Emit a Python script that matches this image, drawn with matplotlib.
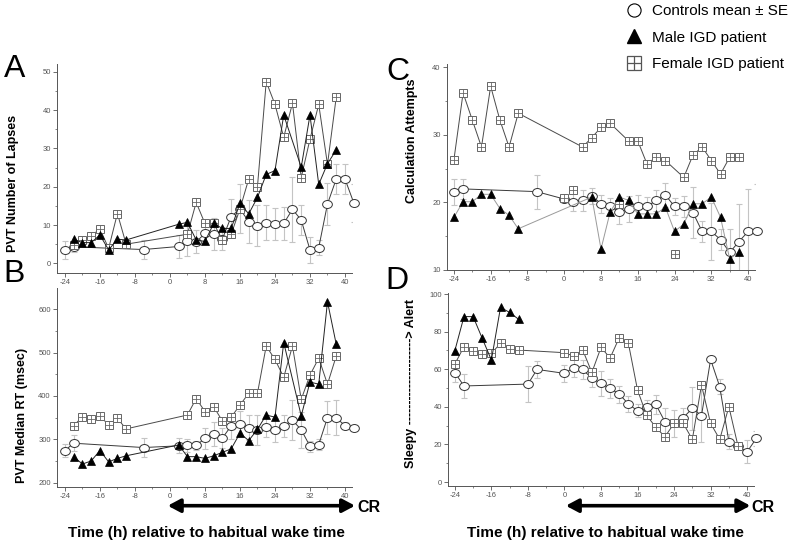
import matplotlib
matplotlib.use("Agg")
import matplotlib.pyplot as plt
import matplotlib.transforms as mtransforms
from matplotlib.lines import Line2D
from matplotlib.path import Path
from matplotlib.ticker import MultipleLocator

plt.rcParams["font.family"] = ["Liberation Sans", "DejaVu Sans"]
plt.rcParams["axes.unicode_minus"] = False

W, H = 797, 542

# ── Panel A: PVT number of lapses ─────────────────────────────────────────────
a_ctrl_h  = [-24, -22, -6, 2, 4, 6, 8, 10, 12, 14, 16, 18, 20, 22, 24, 26, 28, 30, 32, 34, 36, 38, 40, 42]
a_ctrl_y  = [3.5, 4.3, 3.6, 4.4, 5.8, 5.6, 7.8, 7.6, 6.4, 12.2, 14.2, 10.9, 9.8, 10.6, 10.2, 10.4, 14.1, 11.3, 3.5, 4.1, 15.5, 22.0, 22.0, 15.8]
a_ctrl_se = [2.3, 1.3, 2.5, 3.0, 4.0, 3.0, 2.5, 4.1, 3.0, 4.5, 6.4, 5.7, 5.4, 4.5, 4.2, 4.3, 8.5, 3.9, 3.5, 2.0, 5.4, 3.8, 3.8, 5.0]
a_male_h  = [-22, -20, -18, -16, -14, -12, -10, 2, 4, 6, 8, 10, 12, 14, 16, 18, 20, 22, 24, 26, 30, 32, 34, 36, 38]
a_male_y  = [6.3, 5.4, 5.4, 7.4, 3.5, 6.3, 6.1, 10.2, 10.7, 6.1, 5.7, 10.4, 9.1, 9.1, 15.7, 12.9, 17.2, 23.2, 24.2, 38.7, 25.1, 38.7, 20.6, 26.0, 29.6]
a_fem_h   = [-22, -20, -18, -16, -14, -12, -10, 4, 6, 8, 10, 12, 14, 16, 18, 20, 22, 24, 26, 28, 30, 32, 34, 36, 38]
a_fem_y   = [4.8, 6.1, 7.1, 9.0, 3.9, 13.0, 5.0, 7.6, 15.9, 10.4, 10.4, 6.1, 7.6, 14.2, 22.0, 20.0, 47.4, 41.5, 32.9, 41.8, 22.4, 32.4, 41.5, 25.8, 43.4]

# ── Panel B: PVT median RT (msec) ─────────────────────────────────────────────
b_ctrl_h  = [-24, -22, -6, 2, 4, 6, 8, 10, 12, 14, 16, 18, 20, 22, 24, 26, 28, 30, 32, 34, 36, 38, 40, 42]
b_ctrl_y  = [274, 291, 281, 285, 286, 286, 302, 312, 303, 331, 336, 327, 321, 328, 321, 331, 344, 322, 284, 288, 350, 350, 331, 325]
b_ctrl_se = [15, 18, 22, 17, 15, 10, 25, 27, 23, 30, 30, 29, 35, 23, 27, 26, 46, 42, 13, 13, 38, 40, 8, 3]
b_male_h  = [-22, -20, -18, -16, -14, -12, -10, 2, 4, 6, 8, 10, 12, 14, 16, 18, 20, 22, 24, 26, 30, 32, 34, 36, 38]
b_male_y  = [260, 243, 250, 274, 248, 256, 262, 287, 260, 260, 256, 262, 270, 278, 314, 297, 323, 356, 351, 523, 354, 432, 427, 617, 519]
b_fem_h   = [-22, -20, -18, -16, -14, -12, -10, 4, 6, 8, 10, 12, 14, 16, 18, 20, 22, 24, 26, 28, 30, 32, 34, 36, 38]
b_fem_y   = [331, 352, 346, 354, 333, 348, 324, 356, 394, 364, 375, 342, 351, 379, 406, 406, 515, 484, 443, 515, 392, 448, 487, 427, 492]

# ── Panel C: calculation attempts ─────────────────────────────────────────────
c_ctrl_h  = [-24, -22, -6, 0, 2, 4, 6, 8, 10, 12, 14, 16, 18, 20, 22, 24, 26, 28, 30, 32, 34, 36, 38, 40, 42]
c_ctrl_y  = [21.5, 22.0, 21.6, 20.5, 20.1, 20.3, 21.0, 19.8, 19.4, 18.6, 19.0, 19.4, 19.4, 20.3, 21.1, 19.4, 19.4, 18.5, 15.7, 15.7, 14.5, 12.6, 14.2, 15.7, 15.7]
c_ctrl_se = [1.9, 1.5, 2.5, 0.4, 1.3, 1.6, 1.2, 1.3, 1.2, 1.8, 1.9, 1.7, 1.4, 1.6, 1.8, 1.2, 1.6, 3.8, 1.5, 4.2, 1.5, 3.5, 5.5, 6.3, 7.0]
c_male_h  = [-24, -22, -20, -18, -16, -14, -12, -10, 6, 8, 10, 12, 14, 16, 18, 20, 22, 24, 26, 28, 30, 32, 34, 36, 38]
c_male_y  = [17.8, 20.1, 20.1, 21.2, 21.2, 19.1, 18.1, 16.1, 20.8, 13.1, 18.6, 20.8, 20.3, 18.3, 18.3, 18.3, 19.3, 15.7, 16.8, 19.8, 19.8, 20.8, 17.8, 11.6, 12.7]
c_fem_h   = [-24, -22, -20, -18, -16, -14, -12, -10, 4, 6, 8, 10, 14, 16, 18, 20, 22, 26, 28, 30, 32, 34, 36, 38]
c_fem_y   = [26.3, 36.2, 32.2, 28.2, 37.2, 32.2, 28.2, 33.2, 28.2, 29.6, 31.1, 31.7, 29.1, 29.1, 25.7, 26.7, 26.2, 23.7, 27.0, 28.2, 26.2, 24.2, 26.7, 26.7]
c_fem_extra_h = [0, 2, 12, 24]          # stray female points, not joined by the line
c_fem_extra_y = [20.6, 21.8, 19.8, 12.3]

# ── Panel D: sleepy -> alert ──────────────────────────────────────────────────
d_ctrl_h  = [-24, -22, -8, -6, 0, 2, 4, 6, 8, 10, 12, 14, 16, 18, 20, 22, 24, 26, 28, 30, 32, 34, 36, 38, 40, 42]
d_ctrl_y  = [58.2, 51.1, 52.1, 59.9, 57.8, 60.8, 59.9, 55.1, 52.5, 49.8, 46.8, 41.5, 37.9, 40.1, 41.3, 32.1, 31.2, 34.2, 39.2, 35.3, 65.2, 50.7, 21.5, 19.1, 16.1, 23.2]
d_ctrl_se = [4.8, 6.2, 9.7, 4.5, 4.5, 5.0, 5.0, 4.5, 6.5, 5.0, 4.5, 4.5, 3.5, 3.5, 5.0, 7.5, 7.0, 5.0, 11.5, 14.0, 1.0, 4.0, 4.0, 1.5, 6.0, 4.0]
d_male_h  = [-24, -22, -20, -18, -16, -14, -12, -10]
d_male_y  = [69.9, 88.0, 88.0, 76.4, 64.9, 92.9, 90.2, 86.5]
d_fem_h   = [-24, -22, -20, -18, -16, -14, -12, -10, 0, 2, 4, 6, 8, 10, 12, 14, 16, 18, 20, 22, 24, 26, 28, 30, 32, 34, 36, 38]
d_fem_y   = [62.8, 72.0, 69.9, 68.1, 68.4, 73.8, 70.6, 70.2, 68.8, 67.0, 70.2, 58.3, 71.6, 66.0, 76.8, 73.8, 48.9, 35.5, 29.1, 24.1, 31.2, 31.2, 22.7, 51.6, 31.2, 22.7, 40.1, 19.1]

# slightly flattened circle, like the original markers
_uc = Path.unit_circle()
ELLIPSE = Path(_uc.vertices * [1.0, 0.82], _uc.codes)


def px_rect(left, top, right, bottom):
    """Pixel box -> figure fraction [l, b, w, h]."""
    return [left / W, 1 - bottom / H, (right - left) / W, (bottom - top) / H]


def style_axes(ax, xlim, ylim, ymaj, ymin):
    ax.set_xlim(*xlim)
    ax.set_ylim(*ylim)
    for side in ("top", "right"):
        ax.spines[side].set_visible(False)
    for side in ("left", "bottom"):
        ax.spines[side].set_color("#555555")
        ax.spines[side].set_linewidth(0.7)
    ax.xaxis.set_major_locator(MultipleLocator(8))
    ax.xaxis.set_minor_locator(MultipleLocator(4))
    ax.yaxis.set_major_locator(MultipleLocator(ymaj))
    ax.yaxis.set_minor_locator(MultipleLocator(ymin))
    ax.set_xticks([-24, -16, -8, 0, 8, 16, 24, 32, 40])
    ax.tick_params(which="major", direction="out", length=3, width=0.6,
                   colors="#555555", labelsize=5.5, pad=1.5)
    ax.tick_params(which="minor", direction="out", length=1.6, width=0.5,
                   colors="#555555")


def draw_series(ax, ctrl, male, fem, male_line="#222222"):
    ch, cy, cse = ctrl
    ax.errorbar(ch, cy, yerr=cse, fmt="none", ecolor="#c4c4c4",
                elinewidth=0.8, capsize=2.0, capthick=0.8, zorder=1)
    ax.plot(ch, cy, "-", color="#3a3a3a", lw=0.7, marker=ELLIPSE, ms=7,
            mfc="white", mec="#333333", mew=0.7, zorder=3, clip_on=False)
    fh, fy = fem
    ax.plot(fh, fy, "-", color="#4a4a4a", lw=0.7, marker="s", ms=5.3,
            mfc="white", mec="#666666", mew=0.7, zorder=4, clip_on=False)
    ax.plot(fh, fy, ls="none", marker="+", ms=5.3, mec="#666666",
            mew=0.6, zorder=4, clip_on=False)
    mh, my = male
    ax.plot(mh, my, "-", color=male_line, lw=0.7, marker="^", ms=6,
            mfc="black", mec="black", mew=0.5, zorder=5, clip_on=False)


fig = plt.figure(figsize=(W / 100, H / 100), dpi=100)

ax_a = fig.add_axes(px_rect(57, 64.1, 352, 272.9))
ax_b = fig.add_axes(px_rect(57, 288.3, 352, 486.6))
ax_c = fig.add_axes(px_rect(447, 63.9, 755, 270))
ax_d = fig.add_axes(px_rect(448, 293.1, 754, 485.8))

style_axes(ax_a, (-25.8, 41.6), (-2.5, 52), 10, 5)
style_axes(ax_b, (-25.8, 41.6), (191, 648), 100, 50)
style_axes(ax_c, (-25.5, 41.5), (10, 40.5), 10, 5)
style_axes(ax_d, (-25.5, 41.5), (-2, 100.5), 20, 10)

draw_series(ax_a, (a_ctrl_h, a_ctrl_y, a_ctrl_se), (a_male_h, a_male_y), (a_fem_h, a_fem_y))
draw_series(ax_b, (b_ctrl_h, b_ctrl_y, b_ctrl_se), (b_male_h, b_male_y), (b_fem_h, b_fem_y))
draw_series(ax_c, (c_ctrl_h, c_ctrl_y, c_ctrl_se), (c_male_h, c_male_y), (c_fem_h, c_fem_y),
            male_line="#9a9a9a")
draw_series(ax_d, (d_ctrl_h, d_ctrl_y, d_ctrl_se), (d_male_h, d_male_y), (d_fem_h, d_fem_y))

# stray female points in C
ax_c.plot(c_fem_extra_h, c_fem_extra_y, ls="none", marker="s", ms=5.3,
          mfc="white", mec="#666666", mew=0.7, zorder=4)
ax_c.plot(c_fem_extra_h, c_fem_extra_y, ls="none", marker="+", ms=5.3,
          mec="#666666", mew=0.6, zorder=4)

# ── Panel letters & y labels ──────────────────────────────────────────────────
for letter, (px, py) in {"A": (15, 69), "B": (14, 274), "C": (398, 72), "D": (397, 281)}.items():
    fig.text(px / W, 1 - py / H, letter, fontsize=23, ha="center", va="center")

ylabels = [
    ("PVT Number of Lapses", 13, 183),
    ("PVT Median RT (msec)", 22, 415),
    ("Calculation Attempts", 412, 141),
    ("Sleepy ---------------------> Alert", 411, 384),
]
for txt, px, py in ylabels:
    fig.text(px / W, 1 - py / H, txt, rotation=90, fontsize=9,
             fontweight="bold", ha="center", va="center")

# ── Constant-routine arrows and x labels ──────────────────────────────────────
for ax, x0, x1, cr_px, lab_px in [(ax_b, -0.5, 42.3, 357, 206),
                                  (ax_d, 0.3, 40.7, 751, 605)]:
    trans = mtransforms.blended_transform_factory(ax.transData, fig.transFigure)
    yarr = 1 - 505.7 / H
    ax.annotate("", xy=(x1, yarr), xytext=(x0, yarr), xycoords=trans, textcoords=trans,
                arrowprops=dict(arrowstyle="<|-|>,head_length=0.75,head_width=0.4",
                                color="black", lw=2.6, shrinkA=0, shrinkB=0,
                                mutation_scale=10),
                annotation_clip=False)
    fig.text(cr_px / W, 1 - 507 / H, "CR", fontsize=11.5,
             fontweight="bold", ha="left", va="center")
    fig.text(lab_px / W, 1 - 533 / H, "Time (h) relative to habitual wake time",
             fontsize=11, fontweight="bold", ha="center", va="center")

# ── Legend ────────────────────────────────────────────────────────────────────
h_ctrl = Line2D([], [], ls="none", marker="o", ms=9.5, mfc="white", mec="black", mew=0.8)
h_male = Line2D([], [], ls="none", marker="^", ms=10, mfc="black", mec="black")
h_fem = (Line2D([], [], ls="none", marker="s", ms=10, mfc="white", mec="#555555", mew=0.9),
         Line2D([], [], ls="none", marker="+", ms=10, mec="#555555", mew=0.9))
fig.legend([h_ctrl, h_male, h_fem],
           ["Controls mean ± SE", "Male IGD patient", "Female IGD patient"],
           loc="upper left", bbox_to_anchor=(625 / W, 1 - 4 / H), frameon=False,
           fontsize=11, handlelength=1.2, handletextpad=0.6, labelspacing=0.82,
           borderpad=0, borderaxespad=0)

fig.savefig("out.png", dpi=100)
